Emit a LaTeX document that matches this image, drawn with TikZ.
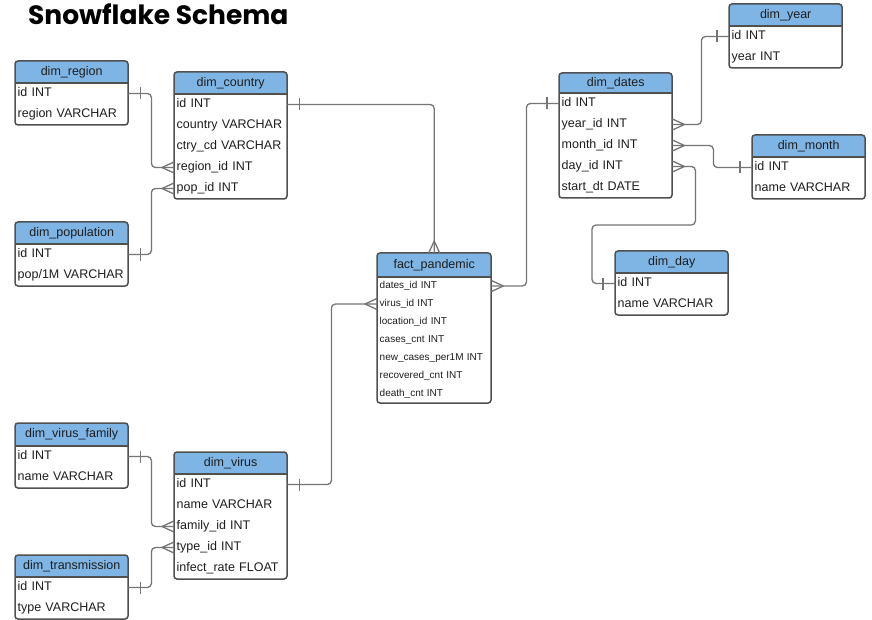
\documentclass[tikz,border=0pt]{standalone}
\usepackage{fontspec}
\setmainfont{Liberation Sans}
\newfontfamily\titlefont{Poppins}
\usetikzlibrary{calc}

\definecolor{hdrblue}{HTML}{7EB5E4}
\definecolor{edgegray}{HTML}{505050}
\definecolor{linkgray}{HTML}{757575}
\definecolor{inkdark}{HTML}{1E1E1E}

\tikzset{
  conn/.style={draw=linkgray, line width=1.3pt, rounded corners=4pt},
  tabtitle/.style={font=\fontsize{12.5}{14}\selectfont, text=inkdark, inner sep=0pt,
    text height=9pt, text depth=2.5pt},
  rowtxt/.style={font=\fontsize{12.5}{14}\selectfont, text=inkdark, inner xsep=2.5pt,
    inner ysep=0pt, text height=9pt, text depth=3pt, align=left},
  factrow/.style={font=\fontsize{10}{12}\selectfont, text=inkdark, inner xsep=2.5pt,
    inner ysep=0pt, text height=7.2pt, text depth=2.4pt, align=left},
  % crow's foot (many) sitting on an entity edge, line arriving from the left
  many/.pic={\draw[conn, rounded corners=0pt] (-12,0) -- (0,-5.5) (-12,0) -- (0,5.5);},
  % single bar (one) on a line leaving an entity edge to the right
  one/.pic={\draw[conn, rounded corners=0pt] (12,-6) -- (12,6);},
}

% #1 name, #2 left, #3 right, #4 top, #5 header bottom, #6 title,
% #7 row pitch, #8 row style, #9 rows (key/{text})
\newcommand\ertable[9]{%
  \foreach \rowkey/\rowtxt [count=\rowcnt] in {#9} {\xdef\ernrows{\rowcnt}}%
  \pgfmathsetmacro\erbot{#5+\ernrows*#7}%
  \pgfmathsetmacro\erw{#3-#2}%
  \pgfmathsetmacro\erhh{#5-#4}%
  \pgfmathsetmacro\ertw{#3-#2-5}%
  \fill[white, rounded corners=3pt] (#2,#4) rectangle (#3,\erbot);
  \begin{scope}
    \clip[rounded corners=3pt] (#2,#4) rectangle (#3,\erbot);
    \fill[hdrblue] (#2,#4) rectangle (#3,#5);
  \end{scope}
  \draw[edgegray, line width=1.2pt] (#2,#5) -- (#3,#5);
  \draw[edgegray, line width=1.5pt, rounded corners=3pt] (#2,#4) rectangle (#3,\erbot);
  \node[tabtitle, minimum width=\erw pt, minimum height=\erhh pt, anchor=north west]
    (#1) at (#2,#4) {#6};
  \foreach \rowkey/\rowtxt [count=\rowno] in {#9} {
    \pgfmathsetmacro\ry{#5+(\rowno-0.5)*#7}
    \node[#8, text width=\ertw pt, anchor=west] (#1-\rowkey) at (#2,\ry) {\rowtxt};
  }%
}

\begin{document}
\begin{tikzpicture}[x=1pt, y=-1pt]
  \fill[white] (0,0) rectangle (872,620);
  \useasboundingbox (0,0) rectangle (872,620);

  \node[anchor=base west, inner sep=0pt,
        font=\titlefont\bfseries\fontsize{26.5}{30}\selectfont, text=black]
    (title) at (28,25) {Snowflake Schema};

  % tables
  \ertable{region}{15}{128}{61}{83}{dim\_region}{21}{rowtxt}
    {id/{id INT}, region/{region VARCHAR}}
  \ertable{country}{174}{287}{72}{94}{dim\_country}{21}{rowtxt}
    {id/{id INT}, country/{country VARCHAR}, cd/{ctry\_cd VARCHAR},
     region/{region\_id INT}, pop/{pop\_id INT}}
  \ertable{pop}{15}{128}{222}{244}{dim\_population}{21}{rowtxt}
    {id/{id INT}, per/{pop/1M VARCHAR}}
  \ertable{fact}{377}{491}{253}{277}{fact\_pandemic}{18}{factrow}
    {dates/{dates\_id INT}, virus/{virus\_id INT}, location/{location\_id INT},
     cases/{cases\_cnt INT}, newcases/{new\_cases\_per1M INT},
     recovered/{recovered\_cnt INT}, death/{death\_cnt INT}}
  \ertable{dates}{559}{672}{73}{93}{dim\_dates}{21}{rowtxt}
    {id/{id INT}, year/{year\_id INT}, month/{month\_id INT},
     day/{day\_id INT}, start/{start\_dt DATE}}
  \ertable{year}{729}{842}{4}{26}{dim\_year}{21}{rowtxt}
    {id/{id INT}, year/{year INT}}
  \ertable{month}{752}{865}{135}{157}{dim\_month}{21}{rowtxt}
    {id/{id INT}, name/{name VARCHAR}}
  \ertable{day}{615}{728}{251}{273}{dim\_day}{21}{rowtxt}
    {id/{id INT}, name/{name VARCHAR}}
  \ertable{vfam}{15}{128}{423}{446}{dim\_virus\_family}{21}{rowtxt}
    {id/{id INT}, name/{name VARCHAR}}
  \ertable{virus}{174}{287}{452}{474}{dim\_virus}{21}{rowtxt}
    {id/{id INT}, name/{name VARCHAR}, family/{family\_id INT},
     type/{type\_id INT}, rate/{infect\_rate FLOAT}}
  \ertable{trans}{15}{128}{555}{577}{dim\_transmission}{21}{rowtxt}
    {id/{id INT}, type/{type VARCHAR}}

  % relationships
  \draw[conn] (region-id.east) -- ++(23,0) |- (country-region.west);
  \pic at (region-id.east) {one};
  \pic at (country-region.west) {many};

  \draw[conn] (pop-id.east) -- ++(23,0) |- (country-pop.west);
  \pic at (pop-id.east) {one};
  \pic at (country-pop.west) {many};

  \draw[conn] (country-id.east) -| (fact.north);
  \pic at (country-id.east) {one};
  \pic[rotate=-90] at (fact.north) {many};

  \draw[conn] (fact-dates.east) -- ++(35,0) |- (dates-id.west);
  \pic[rotate=180] at (fact-dates.east) {many};
  \pic[rotate=180] at (dates-id.west) {one};

  \draw[conn] (dates-year.east) -- ++(29,0) |- (year-id.west);
  \pic[rotate=180] at (dates-year.east) {many};
  \pic[rotate=180] at (year-id.west) {one};

  \draw[conn] (dates-month.east) -- ++(41,0) |- (month-id.west);
  \pic[rotate=180] at (dates-month.east) {many};
  \pic[rotate=180] at (month-id.west) {one};

  \coordinate (dayturn) at (592,225);
  \draw[conn] (dates-day.east) -- ++(23,0) |- (dayturn) |- (day-id.west);
  \pic[rotate=180] at (dates-day.east) {many};
  \pic[rotate=180] at (day-id.west) {one};

  \draw[conn] (virus-id.east) -- ++(44,0) |- (fact-virus.west);
  \pic at (virus-id.east) {one};
  \pic at (fact-virus.west) {many};

  \draw[conn] (vfam-id.east) -- ++(23,0) |- (virus-family.west);
  \pic at (vfam-id.east) {one};
  \pic at (virus-family.west) {many};

  \draw[conn] (trans-id.east) -- ++(23,0) |- (virus-type.west);
  \pic at (trans-id.east) {one};
  \pic at (virus-type.west) {many};
\end{tikzpicture}
\end{document}
